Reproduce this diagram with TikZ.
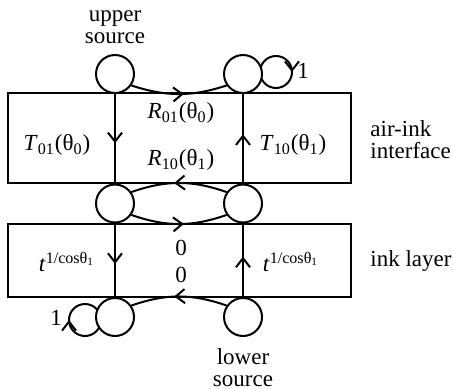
\documentclass[tikz,border=0pt]{standalone}
\usepackage{fontspec}
\setmainfont{Liberation Serif}
\usetikzlibrary{arrows.meta,decorations.markings}
\begin{document}
\begin{tikzpicture}[x=0.5pt,y=0.5pt,
  every node/.style={font=\fontsize{11.5}{11}\selectfont},
  st/.style={circle,draw,line width=1pt,fill=white,minimum size=19pt,inner sep=0pt},
  ln/.style={line width=1pt},
  mid/.style={ln,postaction={decorate},decoration={markings,mark=at position #1 with {\arrow{Straight Barb[length=4.5pt,width=7pt,line width=1pt]}}}},
  mid/.default=0.55]
\useasboundingbox (0,0) rectangle (453,-389);
% layers
\draw[ln] (8,-93) rectangle (351,-183);
\draw[ln] (8,-224) rectangle (351,-297);
% self loops
\coordinate (lc1) at (276,-72);
\coordinate (lc2) at (85,-320);
\draw[mid=0.5] (lc1) ++(-16,0) arc[start angle=180,end angle=-180,radius=16];
\draw[mid=0.5] (lc2) ++(16,0) arc[start angle=0,end angle=-360,radius=16];
% states
\node[st] (us) at (115,-74) {};
\node[st] (ur) at (243,-74) {};
\node[st] (ml) at (115,-203.5) {};
\node[st] (mr) at (243,-203.5) {};
\node[st] (ll) at (115,-317) {};
\node[st] (lr) at (243,-317) {};
% connectors
\draw[mid] (us.-35) to[bend right=18] (ur.-145);
\draw[mid] (us) -- (ml);
\draw[mid] (mr) -- (ur);
\draw[mid] (mr.145) to[bend right=19] (ml.35);
\draw[mid] (ml.-35) to[bend right=19] (mr.-145);
\draw[mid] (ml) -- (ll);
\draw[mid] (lr) -- (mr);
\draw[mid] (lr.145) to[bend right=19] (ll.35);
% labels
\node[align=center] (ut) at (115,-27) {upper\\source};
\node[align=center] (lt) at (243,-368) {lower\\source};
\node[align=left,anchor=west,inner sep=0pt] (ai) at (370,-140) {air-ink\\interface};
\node[anchor=west,inner sep=0pt] (il) at (370,-261) {ink layer};
\node (t01) at (57,-145) {\textit{T}\textsubscript{01}(θ\textsubscript{0})};
\node (t10) at (293,-145) {\textit{T}\textsubscript{10}(θ\textsubscript{1})};
\node (r01) at (181,-113) {\textit{R}\textsubscript{01}(θ\textsubscript{0})};
\node (r10) at (181,-160) {\textit{R}\textsubscript{10}(θ\textsubscript{1})};
\node (z1) at (181,-248) {0};
\node (z2) at (181,-275) {0};
\node (tl) at (67,-262) {\textit{t}\textsuperscript{1/cosθ\textsubscript{1}}};
\node (tr) at (291,-262) {\textit{t}\textsuperscript{1/cosθ\textsubscript{1}}};
\node (one1) at (303,-71) {1};
\node (one2) at (56,-318) {1};
\end{tikzpicture}
\end{document}
